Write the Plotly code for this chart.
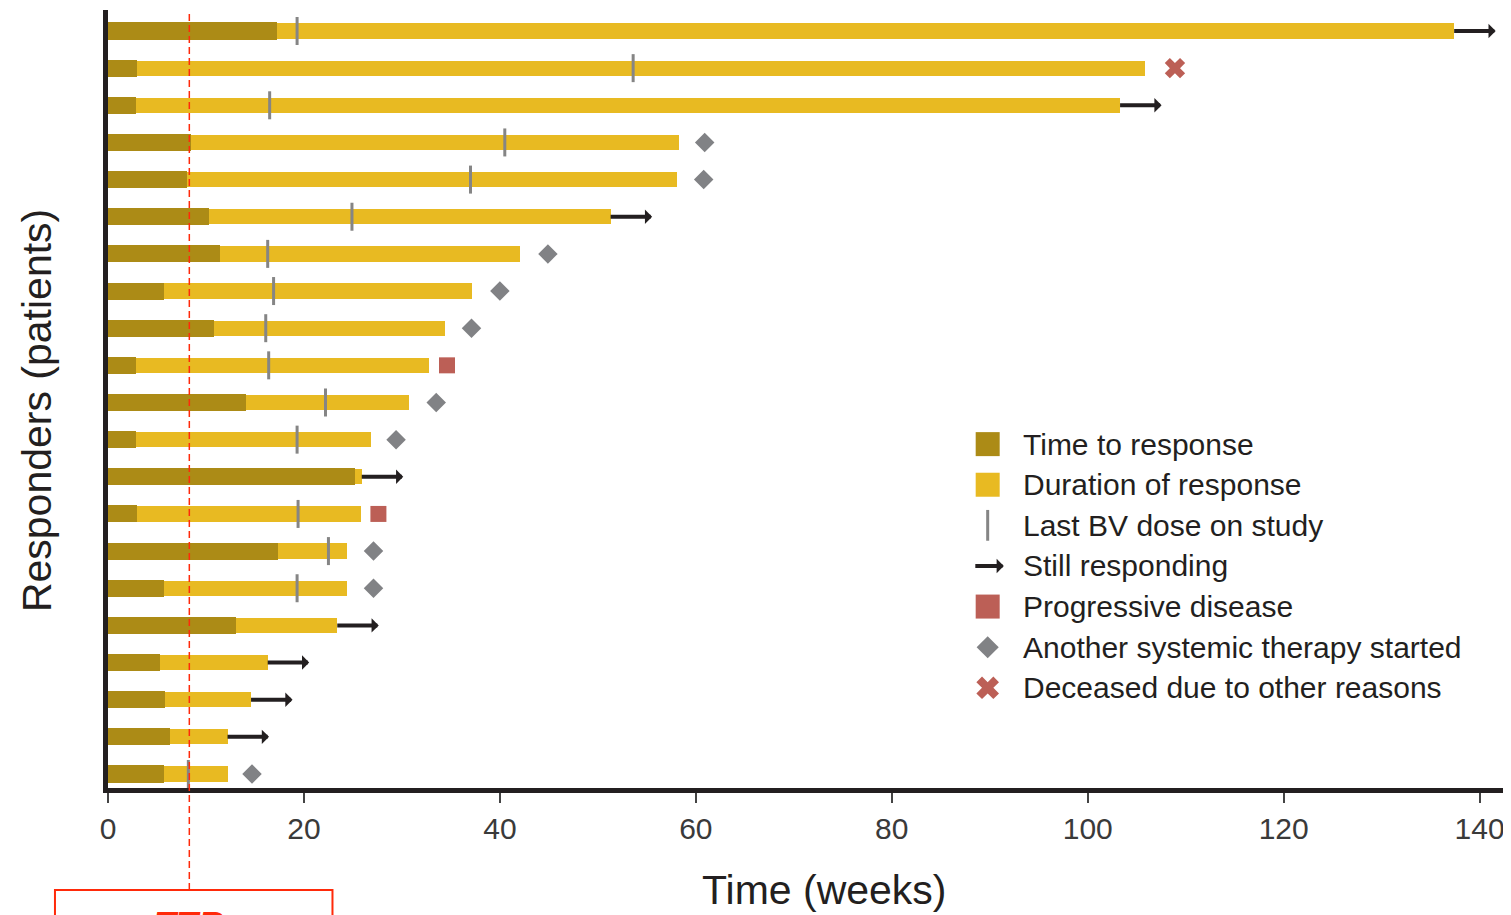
import plotly.graph_objects as go

# ---------------- data (weeks), rows listed top to bottom ----------------
ttr = [17.2, 3.0, 2.9, 8.5, 8.1, 10.3, 11.4, 5.7, 10.8, 2.9, 14.1,
       2.9, 25.2, 3.0, 17.4, 5.7, 13.1, 5.3, 5.8, 6.3, 5.7]
dor_end = [137.4, 105.8, 103.3, 58.3, 58.1, 51.3, 42.1, 37.2, 34.4, 32.8, 30.7,
           26.8, 25.9, 25.8, 24.4, 24.4, 23.4, 16.3, 14.6, 12.2, 12.2]
last_dose = [19.3, 53.6, 16.5, 40.5, 37.0, 24.9, 16.3, 16.9, 16.1, 16.4, 22.2,
             19.3, None, 19.4, 22.5, 19.3, None, None, None, None, 8.2]
outcome = ["still", "deceased", "still", "therapy", "therapy", "still", "therapy",
           "therapy", "therapy", "pd", "therapy", "therapy", "still", "pd",
           "therapy", "therapy", "still", "still", "still", "still", "therapy"]
event_x = [None, 108.9, None, 60.9, 60.8, None, 44.9, 40.0, 37.1, 34.6, 33.5,
           29.4, None, 27.6, 27.1, 27.1, None, None, None, None, 14.7]
ttr_median = 8.3
x_ticks = [0, 20, 40, 60, 80, 100, 120, 140]
legend_labels = ["Time to response", "Duration of response", "Last BV dose on study",
                 "Still responding", "Progressive disease",
                 "Another systemic therapy started", "Deceased due to other reasons"]

# ---------------- style ----------------
C_TTR = "#AC8B16"
C_DOR = "#E8BA22"
C_TICK = "#858585"
C_DARK = "#231F20"
C_PD = "#BC5F56"
C_THER = "#818285"
C_RED = "#FF2A0A"
FONT = "Liberation Sans, Arial, sans-serif"

n = len(ttr)
ypos = [n - 1 - i for i in range(n)]
dur = [e - t for e, t in zip(dor_end, ttr)]

fig = go.Figure()
fig.add_bar(y=ypos, x=dur, base=ttr, orientation="h", width=0.41,
            marker=dict(color=C_DOR, line_width=0), showlegend=False,
            name="Duration of response")
fig.add_bar(y=ypos, x=ttr, base=[0] * n, orientation="h", width=0.46,
            marker=dict(color=C_TTR, line_width=0), showlegend=False,
            name="Time to response")

# last dose ticks
ld_x = [v for v in last_dose if v is not None]
ld_y = [y for v, y in zip(last_dose, ypos) if v is not None]
fig.add_scatter(x=ld_x, y=ld_y, mode="markers", showlegend=False,
                marker=dict(symbol="line-ns", size=20,
                            line=dict(width=3, color=C_TICK)))

# events
sym = {"pd": ("square", 16, C_PD), "therapy": ("diamond", 15, C_THER),
       "deceased": ("x", 18, C_PD)}
for key, (s, sz, col) in sym.items():
    xs = [ex for ex, o in zip(event_x, outcome) if o == key]
    ys = [y for y, o in zip(ypos, outcome) if o == key]
    fig.add_scatter(x=xs, y=ys, mode="markers", showlegend=False,
                    marker=dict(symbol=s, size=sz, color=col, line_width=0))

annotations = []
# still responding arrows
for e, y, o in zip(dor_end, ypos, outcome):
    if o == "still":
        annotations.append(dict(x=e, y=y, xref="x", yref="y", ax=43, ay=0,
                                axref="pixel", ayref="pixel", text="",
                                showarrow=True, arrowside="start",
                                startarrowhead=1, startarrowsize=0.6,
                                arrowwidth=4, arrowcolor=C_DARK,
                                standoff=0, startstandoff=0))

# legend (manual)
sym_x, text_x, y0, step = 0.627, 0.651, 0.442, 0.0522
leg_y = [y0 - i * step for i in range(len(legend_labels))]
leg_markers = [("square", 24, C_TTR, 0), ("square", 24, C_DOR, 0),
               ("line-ns", 22, C_TICK, 3), None, ("square", 24, C_PD, 0),
               ("diamond", 17, C_THER, 0), ("x", 20, C_PD, 0)]
for lbl, ly, mk in zip(legend_labels, leg_y, leg_markers):
    if mk is not None:
        s, sz, col, lw = mk
        fig.add_scatter(x=[sym_x], y=[ly], xaxis="x2", yaxis="y2",
                        mode="markers", showlegend=False, hoverinfo="skip",
                        marker=dict(symbol=s, size=sz, color=col,
                                    line=dict(width=lw, color=col)))
    else:
        annotations.append(dict(x=sym_x + 0.0115, y=ly, xref="paper", yref="paper",
                                ax=-30, ay=0, text="", showarrow=True,
                                arrowhead=1, arrowsize=0.6, arrowwidth=4,
                                arrowcolor=C_DARK, standoff=0))
    annotations.append(dict(x=text_x, y=ly, xref="paper", yref="paper",
                            text=lbl, showarrow=False, xanchor="left",
                            yanchor="middle",
                            font=dict(size=30, color=C_DARK, family=FONT)))

# axis titles
annotations.append(dict(x=0.511, y=-0.131, xref="paper", yref="paper",
                        text="Time (weeks)", showarrow=False,
                        xanchor="center", yanchor="middle",
                        font=dict(size=41, color=C_DARK, family=FONT)))
annotations.append(dict(x=-0.051, y=0.485, xref="paper", yref="paper",
                        text="Responders (patients)", showarrow=False,
                        textangle=-90, xanchor="center", yanchor="middle",
                        font=dict(size=41, color=C_DARK, family=FONT)))
# TTR label (cut off by the lower edge, as in the reference)
annotations.append(dict(x=ttr_median, y=-0.1475, xref="x", yref="paper",
                        text="<b><i>TTR</i></b>", showarrow=False,
                        xanchor="center", yanchor="top",
                        font=dict(size=36, color=C_RED, family=FONT)))

shapes = [
    dict(type="line", xref="x", yref="paper", x0=ttr_median, x1=ttr_median,
         y0=-0.131, y1=0.996, line=dict(color=C_RED, width=1.5, dash="7px,4px")),
    dict(type="rect", xref="paper", yref="paper", x0=-0.0378, x1=0.160,
         y0=-0.131, y1=-0.25, line=dict(color=C_RED, width=2)),
]

# the page body adds an 8 px offset, so the figure is sized for the visible window
fig.update_layout(
    width=1503, height=907,
    margin=dict(l=100, r=0, t=2, b=127, autoexpand=False),
    paper_bgcolor="white", plot_bgcolor="white",
    barmode="overlay", bargap=0,
    font=dict(family=FONT, color=C_DARK),
    xaxis=dict(range=[0, 143.2], tickvals=x_ticks, ticks="outside", ticklen=10,
               tickwidth=1.5, tickcolor="#444444", showline=True, linewidth=5,
               linecolor=C_DARK, showgrid=False, zeroline=False, automargin=False,
               tickfont=dict(size=30, color="#3a3a3a", family=FONT)),
    yaxis=dict(range=[-0.377, 20.565], showline=True, linewidth=5,
               linecolor=C_DARK, showgrid=False, zeroline=False, automargin=False,
               showticklabels=False, ticks=""),
    xaxis2=dict(range=[0, 1], domain=[0, 1], overlaying="x", anchor="y2",
                visible=False),
    yaxis2=dict(range=[0, 1], domain=[0, 1], overlaying="y", anchor="x2",
                visible=False),
    annotations=annotations,
    shapes=shapes,
)

fig.write_html("out.html")
